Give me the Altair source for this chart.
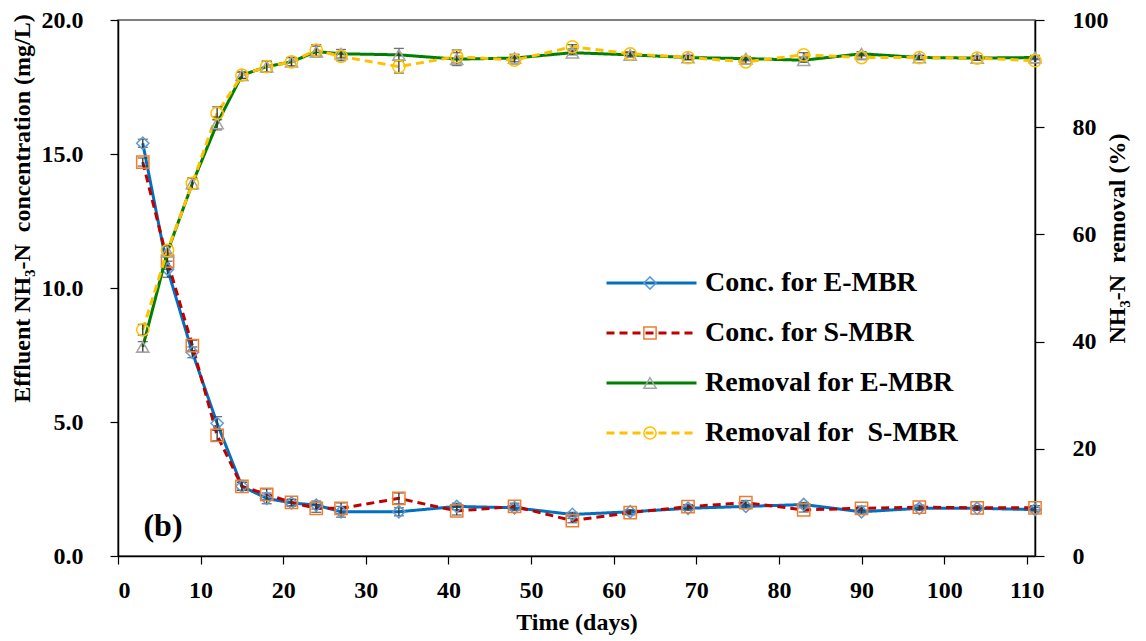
import altair as alt
import pandas as pd

# ---------------- data ----------------
days = [3, 6, 9, 12, 15, 18, 21, 24, 27, 34, 41, 48, 55, 62, 69, 76, 83, 90, 97, 104, 111]

conc_e = [15.4, 10.7, 7.6, 4.95, 2.6, 2.15, 1.98, 1.9, 1.65, 1.65, 1.85, 1.8, 1.55,
          1.65, 1.78, 1.85, 1.92, 1.65, 1.78, 1.78, 1.73]
conc_s = [14.7, 11.0, 7.85, 4.5, 2.6, 2.3, 2.0, 1.78, 1.78, 2.15, 1.68, 1.85, 1.32,
          1.62, 1.84, 1.99, 1.72, 1.78, 1.82, 1.8, 1.8]
conc_e_err = [0.15, 0.3, 0.2, 0.25, 0.15, 0.2, 0.12, 0.15, 0.2, 0.15, 0.12, 0.1, 0.08,
              0.08, 0.08, 0.08, 0.08, 0.08, 0.08, 0.08, 0.08]
conc_s_err = [0.15, 0.3, 0.2, 0.2, 0.15, 0.2, 0.12, 0.15, 0.2, 0.2, 0.15, 0.12, 0.08,
              0.08, 0.08, 0.08, 0.08, 0.08, 0.08, 0.08, 0.08]

rem_e = [39.0, 56.8, 69.5, 80.7, 89.7, 91.3, 92.2, 94.1, 93.7, 93.5, 92.7, 92.9, 93.9,
         93.5, 93.0, 92.8, 92.5, 93.7, 93.0, 92.9, 93.0]
rem_s = [42.2, 57.0, 69.5, 82.6, 89.7, 91.3, 92.2, 94.4, 93.2, 91.3, 93.2, 92.5, 95.0,
         93.7, 93.0, 92.2, 93.5, 93.0, 93.0, 92.9, 92.4]
rem_e_err = [1.0, 1.0, 1.0, 1.2, 0.6, 1.0, 0.8, 1.0, 0.8, 1.2, 1.2, 0.7, 0.4,
             0.4, 0.4, 0.4, 0.4, 0.4, 0.4, 0.4, 0.4]
rem_s_err = [1.0, 1.0, 1.0, 1.2, 0.6, 1.0, 0.8, 1.0, 0.8, 1.2, 1.2, 0.7, 0.4,
             0.4, 0.4, 0.4, 0.4, 0.4, 0.4, 0.4, 0.4]

series_names = ["Conc. for E-MBR", "Conc. for S-MBR", "Removal for E-MBR",
                "Removal for\u00a0 S-MBR"]
marker_names = [n + " " for n in series_names]   # separate domain -> separate legend
line_colors = ["#0070C0", "#C00000", "#008000", "#FFC000"]
marker_colors = ["#5B9BD5", "#ED7D31", "#A5A5A5", "#FFC000"]
marker_shapes = ["diamond", "square", "triangle-up", "circle"]
dash_patterns = [[1, 0], [8, 5], [1, 0], [8, 5]]

x_ticks = list(range(0, 111, 10))
left_ticks = [0, 5, 10, 15, 20]
right_ticks = [0, 20, 40, 60, 80, 100]

FONT = "Liberation Serif"


def frame(vals, errs, idx):
    return pd.DataFrame({
        "day": days,
        "value": vals,
        "lo": [v - e for v, e in zip(vals, errs)],
        "hi": [v + e for v, e in zip(vals, errs)],
        "series": series_names[idx],
        "marker": marker_names[idx],
    })


conc_df = pd.concat([frame(conc_e, conc_e_err, 0),
                     frame(conc_s, conc_s_err, 1)], ignore_index=True)
rem_df = pd.concat([frame(rem_e, rem_e_err, 2),
                    frame(rem_s, rem_s_err, 3)], ignore_index=True)
label_df = pd.DataFrame({"t": ["(b)"]})

# ---------------- scales / axes ----------------
x_enc = alt.X("day:Q",
              scale=alt.Scale(domain=[0, 111], nice=False, zero=False),
              axis=alt.Axis(values=x_ticks, title="Time (days)", grid=False,
                            labelPadding=14, tickSize=8,
                            titleY=66, titleBaseline="middle"))

left_axis = alt.Axis(values=left_ticks, format=".1f", grid=False,
                     title="Effluent NH\u2083-N\u00a0 concentration (mg/L)",
                     tickSize=8, labelPadding=27,
                     titleAngle=270, titleX=-96, titleY=188,
                     titleAlign="center", titleBaseline="middle")
left_scale = alt.Scale(domain=[0, 20], nice=False)

right_axis = alt.Axis(values=right_ticks, format="d", grid=False, orient="right",
                      title="NH\u2083-N\u00a0 removal (%)",
                      tickSize=9, labelPadding=28, labelAlign="left",
                      titleAngle=270, titleX=82, titleY=218,
                      titleAlign="center", titleBaseline="middle")
right_scale = alt.Scale(domain=[0, 100], nice=False)

legend_common = dict(orient="none", legendY=248, title=None, padding=0,
                     labelFont=FONT, labelFontSize=28, labelFontWeight="bold",
                     labelLimit=0, rowPadding=20, labelOffset=7, clipHeight=30)

line_legend = alt.Legend(legendX=487, symbolType="stroke", symbolSize=8100,
                         symbolStrokeWidth=3, labelColor="black", **legend_common)
mark_legend = alt.Legend(legendX=518, symbolSize=150, symbolStrokeWidth=1.5,
                         symbolFillColor="white", labelExpr="''",
                         **legend_common)

color_enc = alt.Color("series:N",
                      scale=alt.Scale(domain=series_names, range=line_colors),
                      legend=line_legend)
dash_enc = alt.StrokeDash("series:N",
                          scale=alt.Scale(domain=series_names, range=dash_patterns),
                          legend=line_legend)
stroke_enc = alt.Stroke("marker:N",
                        scale=alt.Scale(domain=marker_names, range=marker_colors),
                        legend=mark_legend)
shape_enc = alt.Shape("marker:N",
                      scale=alt.Scale(domain=marker_names, range=marker_shapes),
                      legend=mark_legend)


def group(df, y_scale, y_axis):
    y = alt.Y("value:Q", scale=y_scale, axis=y_axis)
    base = alt.Chart(df)
    lines = base.mark_line(strokeWidth=3).encode(
        x=x_enc, y=y, color=color_enc, strokeDash=dash_enc)
    pts = base.mark_point(filled=False, size=150, strokeWidth=1.5, opacity=1).encode(
        x=x_enc, y=y, stroke=stroke_enc, shape=shape_enc)
    bars = base.mark_rule(color="#333333", strokeWidth=1.3).encode(
        x=x_enc, y=alt.Y("lo:Q", scale=y_scale, axis=y_axis), y2="hi:Q")
    caps_lo = base.mark_tick(color="#333333", orient="horizontal", size=10, thickness=1.3).encode(
        x=x_enc, y=alt.Y("lo:Q", scale=y_scale, axis=y_axis))
    caps_hi = base.mark_tick(color="#333333", orient="horizontal", size=10, thickness=1.3).encode(
        x=x_enc, y=alt.Y("hi:Q", scale=y_scale, axis=y_axis))
    return lines, pts, bars, caps_lo, caps_hi


cl, cp, cb, ccl, cch = group(conc_df, left_scale, left_axis)
rl, rp, rb, rcl, rch = group(rem_df, right_scale, right_axis)

label = alt.Chart(label_df).mark_text(font=FONT, fontSize=32, fontWeight="bold",
                                       color="black", align="center", baseline="middle").encode(
    text="t:N", x=alt.value(45), y=alt.value(506))

left = alt.layer(cl, cb, ccl, cch, cp, label)
right = alt.layer(rl, rb, rcl, rch, rp)

chart = alt.layer(left, right).resolve_scale(y="independent").properties(
    width=917, height=536,
    autosize=alt.AutoSizeParams(type="none"),
    padding={"left": 118, "top": 20, "right": 111, "bottom": 85},
    background="white",
).configure_view(stroke="#555555", strokeWidth=1.5).configure_axis(
    labelFont=FONT, labelFontSize=24, labelFontWeight="bold", labelColor="black",
    titleFont=FONT, titleFontSize=24, titleFontWeight="bold", titleColor="black",
    domainColor="black", domainWidth=1.5, tickColor="black", tickWidth=1.2,
)

chart.save("out.html", embed_options={"renderer": "svg", "actions": False})
